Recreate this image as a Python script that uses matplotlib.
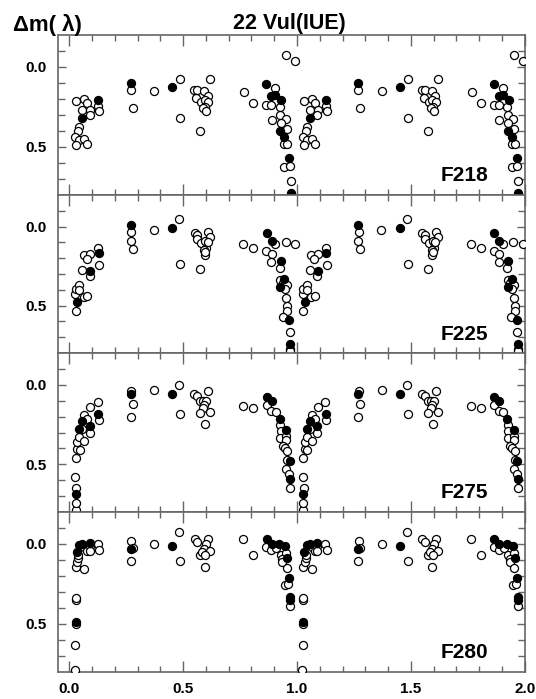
import matplotlib.pyplot as plt
import numpy as np

plt.rcParams['font.family'] = ['Liberation Sans', 'DejaVu Sans']

# phases (0-1), plotted again at phase + 1
# F218
f218_open_ph = [0.029, 0.066, 0.078, 0.057, 0.092, 0.089, 0.126, 0.130, 0.042, 0.038,
                0.025, 0.044, 0.064, 0.031, 0.080, 0.270, 0.278, 0.373, 0.487, 0.488,
                0.548, 0.563, 0.557, 0.591, 0.608, 0.579, 0.594, 0.611, 0.598, 0.589,
                0.601, 0.575, 0.620, 0.768, 0.808, 0.905, 0.864, 0.887, 0.924, 0.889,
                0.925, 0.950, 0.928, 0.955, 0.943, 0.958, 0.943, 0.968, 0.972, 0.953,
                0.993]
f218_open_dm = [0.214, 0.200, 0.225, 0.270, 0.267, 0.300, 0.245, 0.277, 0.377, 0.400,
                0.437, 0.458, 0.448, 0.485, 0.483, 0.146, 0.255, 0.152, 0.073, 0.318,
                0.141, 0.141, 0.191, 0.150, 0.179, 0.219, 0.204, 0.217, 0.250, 0.254,
                0.275, 0.398, 0.073, 0.156, 0.225, 0.129, 0.235, 0.235, 0.250, 0.329,
                0.302, 0.323, 0.350, 0.385, 0.483, 0.479, 0.625, 0.617, 0.710, -0.077,
                -0.040]
f218_fill_ph = [0.127, 0.057, 0.270, 0.453, 0.866, 0.886, 0.905, 0.930, 0.925, 0.944, 0.966, 0.972]
f218_fill_dm = [0.204, 0.316, 0.102, 0.123, 0.108, 0.181, 0.175, 0.206, 0.402, 0.435, 0.566, 0.787]

# F225
f225_open_ph = [0.028, 0.026, 0.028, 0.044, 0.043, 0.063, 0.080, 0.056, 0.089, 0.063,
                0.090, 0.076, 0.126, 0.130, 0.273, 0.270, 0.278, 0.371, 0.484, 0.488,
                0.550, 0.563, 0.560, 0.580, 0.611, 0.620, 0.595, 0.602, 0.591, 0.594,
                0.598, 0.607, 0.575, 0.765, 0.806, 0.905, 0.950, 0.991, 0.865, 0.889,
                0.887, 0.924, 0.925, 0.937, 0.955, 0.946, 0.953, 0.956, 0.958, 0.939,
                0.968, 0.969, 0.969]
f225_open_dm = [0.534, 0.428, 0.394, 0.367, 0.400, 0.443, 0.437, 0.276, 0.312, 0.181,
                0.175, 0.206, 0.133, 0.240, 0.032, 0.090, 0.139, 0.019, -0.051, 0.236,
                0.038, 0.050, 0.080, 0.101, 0.036, 0.067, 0.092, 0.133, 0.147, 0.181,
                0.158, 0.099, 0.266, 0.108, 0.135, 0.111, 0.099, 0.111, 0.154, 0.171,
                0.225, 0.261, 0.337, 0.358, 0.367, 0.392, 0.453, 0.502, 0.534, 0.570,
                0.667, 0.772, 0.785]
f225_fill_ph = [0.035, 0.090, 0.129, 0.270, 0.453, 0.867, 0.889, 0.928, 0.942, 0.925, 0.966, 0.969]
f225_fill_dm = [0.475, 0.280, 0.168, -0.011, 0.010, 0.038, 0.092, 0.215, 0.329, 0.384, 0.591, 0.742]

# F275
f275_open_ph = [0.028, 0.028, 0.031, 0.026, 0.028, 0.036, 0.045, 0.036, 0.042, 0.056,
                0.064, 0.066, 0.080, 0.089, 0.092, 0.124, 0.129, 0.273, 0.278, 0.270,
                0.373, 0.484, 0.488, 0.548, 0.563, 0.576, 0.610, 0.589, 0.602, 0.592,
                0.588, 0.573, 0.620, 0.596, 0.765, 0.806, 0.867, 0.887, 0.906, 0.927,
                0.928, 0.925, 0.952, 0.953, 0.937, 0.946, 0.956, 0.956, 0.952, 0.966,
                0.971]
f275_open_dm = [0.788, 0.745, 0.649, 0.578, 0.462, 0.403, 0.410, 0.361, 0.330, 0.275,
                0.351, 0.193, 0.216, 0.300, 0.137, 0.109, 0.221, 0.042, 0.118, 0.202,
                0.034, 0.002, 0.185, 0.059, 0.073, 0.101, 0.040, 0.099, 0.099, 0.126,
                0.147, 0.176, 0.174, 0.248, 0.132, 0.145, 0.128, 0.166, 0.170, 0.252,
                0.292, 0.336, 0.319, 0.347, 0.384, 0.399, 0.416, 0.475, 0.527, 0.563,
                0.647]
f275_fill_ph = [0.028, 0.042, 0.056, 0.089, 0.127, 0.270, 0.453, 0.867, 0.889, 0.924, 0.953, 0.968, 0.971]
f275_fill_dm = [0.685, 0.281, 0.225, 0.260, 0.185, 0.059, 0.059, 0.076, 0.099, 0.216, 0.286, 0.477, 0.594]

# F280
f280_open_ph = [0.023, 0.026, 0.028, 0.028, 0.028, 0.028, 0.036, 0.039, 0.039, 0.066,
                0.066, 0.079, 0.089, 0.089, 0.124, 0.130, 0.273, 0.278, 0.270, 0.373,
                0.482, 0.488, 0.550, 0.561, 0.611, 0.601, 0.592, 0.573, 0.585, 0.620,
                0.596, 0.594, 0.765, 0.806, 0.865, 0.887, 0.908, 0.928, 0.953, 0.934,
                0.935, 0.955, 0.949, 0.962, 0.969]
f280_open_dm = [0.785, 0.634, 0.500, 0.352, 0.339, 0.144, 0.113, 0.088, 0.070, 0.019,
                0.157, 0.046, 0.015, 0.046, -0.002, 0.036, -0.021, 0.027, 0.107, -0.002,
                -0.077, 0.105, -0.031, -0.013, -0.031, 0.000, 0.031, 0.072, 0.053, 0.044,
                0.072, 0.147, -0.033, 0.067, 0.021, 0.040, 0.028, 0.069, 0.059, 0.094,
                0.111, 0.149, 0.257, 0.249, 0.385]
f280_fill_ph = [0.028, 0.032, 0.042, 0.056, 0.089, 0.270, 0.453, 0.867, 0.889, 0.922, 0.947, 0.958, 0.966, 0.969, 0.969]
f280_fill_dm = [0.486, 0.053, 0.004, 0.000, -0.008, 0.029, 0.013, -0.033, -0.002, 0.002, 0.015, 0.088, 0.212, 0.331, 0.350]

panel_names = ['F218', 'F225', 'F275', 'F280']
x_major = [0.0, 0.5, 1.0, 1.5, 2.0]
y_major = [0.0, 0.5]

panels = [
    (f218_open_ph, f218_open_dm, f218_fill_ph, f218_fill_dm),
    (f225_open_ph, f225_open_dm, f225_fill_ph, f225_fill_dm),
    (f275_open_ph, f275_open_dm, f275_fill_ph, f275_fill_dm),
    (f280_open_ph, f280_open_dm, f280_fill_ph, f280_fill_dm),
]

# axes boxes in figure fraction [left, bottom, width, height]
boxes = [
    [0.108, 0.721, 0.871, 0.229],
    [0.108, 0.495, 0.871, 0.226],
    [0.108, 0.2675, 0.871, 0.2275],
    [0.108, 0.0386, 0.871, 0.229],
]

fig = plt.figure(figsize=(5.36, 6.99), dpi=100)
grey = '#666666'

for i, (oph, odm, fph, fdm) in enumerate(panels):
    ax = fig.add_axes(boxes[i])
    oph = np.array(oph)
    fph = np.array(fph)
    for shift in [0, 1]:
        ax.plot(oph + shift, odm, 'o', ms=5.8, mfc='white', mec='black', mew=0.9, zorder=3)
        ax.plot(fph + shift, fdm, 'o', ms=5.8, mfc='black', mec='black', mew=0.9, zorder=4)
    ax.set_xlim(-0.05, 2.0)
    ax.set_ylim(0.8, -0.2)
    ax.set_xticks(x_major)
    ax.set_xticks(np.arange(0, 2.01, 0.1), minor=True)
    ax.set_yticks(y_major)
    ax.set_yticks(np.arange(-0.1, 0.71, 0.1), minor=True)
    ax.set_yticklabels(['%.1f' % v for v in y_major])
    if i == 3:
        ax.set_xticklabels(['%.1f' % v for v in x_major])
    else:
        ax.set_xticklabels([])
    ax.tick_params(which='both', direction='in', width=1, color=grey,
                   top=True, right=True, labelsize=11)
    ax.tick_params(axis='x', which='major', length=8, pad=7)
    ax.tick_params(axis='x', which='minor', length=4.5)
    ax.tick_params(axis='y', which='major', length=6, pad=8)
    ax.tick_params(axis='y', which='minor', length=5)
    for lab in ax.get_xticklabels() + ax.get_yticklabels():
        lab.set_fontweight('bold')
    for s in ax.spines.values():
        s.set_color(grey)
        s.set_linewidth(1.2)
    ax.text(0.922, 0.06, panel_names[i], transform=ax.transAxes, ha='right', va='bottom',
            fontsize=15, fontweight='bold')

fig.text(0.54, 0.966, '22 Vul(IUE)', ha='center', va='center', fontsize=15.5, fontweight='bold')
fig.text(0.024, 0.964, 'Δm( λ)', ha='left', va='center', fontsize=16, fontweight='bold')

fig.savefig('out.png', dpi=100)
